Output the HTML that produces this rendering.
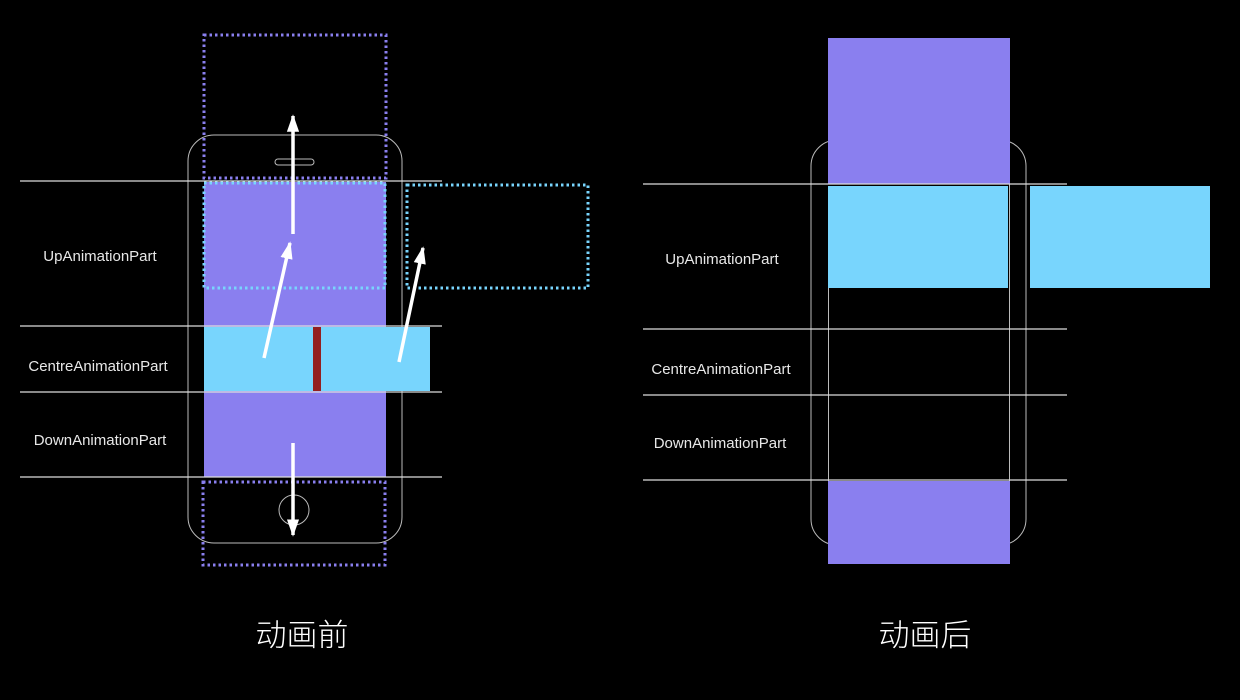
<!DOCTYPE html>
<html><head><meta charset="utf-8"><style>
html,body{margin:0;padding:0;background:#000;width:1240px;height:700px;overflow:hidden}
svg{display:block}
.lbl{font-family:"Liberation Sans",sans-serif;font-size:15px;fill:#e8e8e8;text-anchor:middle}
.cap{font-family:"Liberation Sans","Noto Sans CJK SC",sans-serif;font-size:31px;fill:#fff;text-anchor:middle;font-weight:300}
</style></head><body>
<svg width="1240" height="700" viewBox="0 0 1240 700" xmlns="http://www.w3.org/2000/svg">
<defs>
<marker id="ah" viewBox="0 0 10 10" refX="9" refY="5" markerWidth="5" markerHeight="5" orient="auto-start-reverse" markerUnits="strokeWidth">
<path d="M0,1.5 L10,5 L0,8.5 z" fill="#fff"/></marker>
</defs>
<rect width="1240" height="700" fill="#000"/>

<!-- LEFT -->
<rect x="188" y="135" width="214" height="408" rx="26" fill="none" stroke="#bbb" stroke-width="1"/>
<rect x="275" y="159" width="39" height="6" rx="3" fill="none" stroke="#bbb" stroke-width="1"/>
<rect x="204" y="182" width="182" height="295" fill="#8a7fef"/>
<rect x="204" y="327" width="226" height="64" fill="#78d5fd"/>
<rect x="313" y="327" width="8" height="64" fill="#931f1f"/>
<circle cx="294" cy="510" r="15" fill="none" stroke="#bbb" stroke-width="1"/>
<g stroke-dasharray="2.5 3" stroke-width="3" fill="none">
<rect x="204" y="35" width="182" height="143" stroke="#8a7fef"/>
<rect x="204" y="183" width="181" height="105" stroke="#78d5fd"/>
<rect x="407" y="185" width="181" height="103" stroke="#78d5fd"/>
<rect x="203" y="482" width="182" height="83" stroke="#8a7fef"/>
</g>
<g stroke="#ddd" stroke-width="1.3">
<line x1="20" y1="181" x2="442" y2="181"/>
<line x1="20" y1="326" x2="442" y2="326"/>
<line x1="20" y1="392" x2="442" y2="392"/>
<line x1="20" y1="477" x2="442" y2="477"/>
</g>
<g stroke="#fff" stroke-width="3.5" fill="none" marker-end="url(#ah)">
<line x1="293" y1="234" x2="293" y2="116"/>
<line x1="264" y1="358" x2="290" y2="243"/>
<line x1="399" y1="362" x2="423" y2="248"/>
<line x1="293" y1="443" x2="293" y2="535"/>
</g>
<text class="lbl" x="100" y="261">UpAnimationPart</text>
<text class="lbl" x="98" y="371">CentreAnimationPart</text>
<text class="lbl" x="100" y="445">DownAnimationPart</text>
<text class="cap" x="302" y="646">动画前</text>

<!-- RIGHT -->
<rect x="811" y="140" width="215" height="405" rx="26" fill="none" stroke="#bbb" stroke-width="1"/>
<rect x="828" y="38" width="182" height="146" fill="#8a7fef"/>
<rect x="828" y="186" width="180" height="102" fill="#78d5fd"/>
<rect x="1030" y="186" width="180" height="102" fill="#78d5fd"/>
<rect x="828" y="481" width="182" height="83" fill="#8a7fef"/>
<g stroke="#bbb" stroke-width="1">
<line x1="828.5" y1="288" x2="828.5" y2="481"/>
<line x1="1009.5" y1="184" x2="1009.5" y2="481"/>
</g>
<g stroke="#ddd" stroke-width="1.3">
<line x1="643" y1="184" x2="1067" y2="184"/>
<line x1="643" y1="329" x2="1067" y2="329"/>
<line x1="643" y1="395" x2="1067" y2="395"/>
<line x1="643" y1="480" x2="1067" y2="480"/>
</g>
<text class="lbl" x="722" y="264">UpAnimationPart</text>
<text class="lbl" x="721" y="374">CentreAnimationPart</text>
<text class="lbl" x="720" y="448">DownAnimationPart</text>
<text class="cap" x="925" y="646">动画后</text>
</svg>
</body></html>
